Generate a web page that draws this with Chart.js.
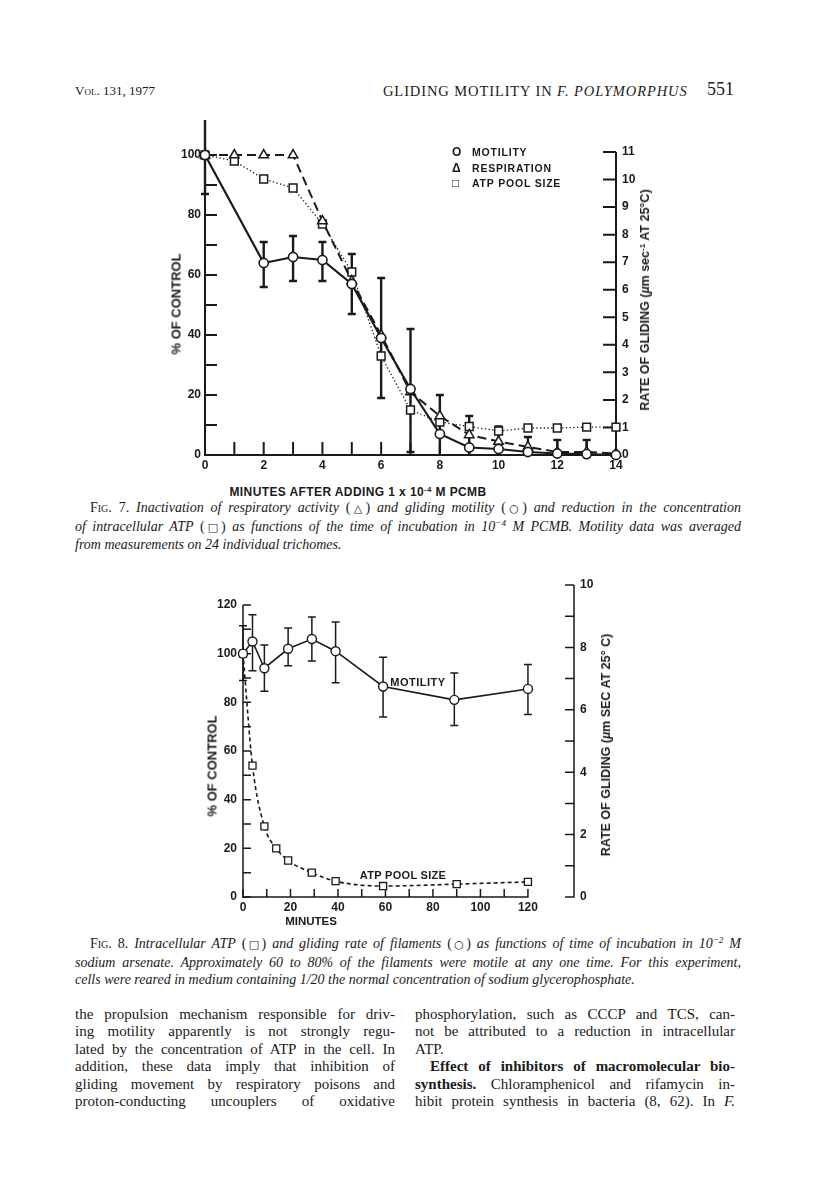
<!DOCTYPE html>
<html>
<head>
<meta charset="utf-8">
<script src="https://cdn.jsdelivr.net/npm/chart.js@4.4.0/dist/chart.umd.min.js"></script>
<style>
  body { margin: 0; background: #fff; }
  #page { position: relative; width: 816px; height: 1201px; overflow: hidden; color: #1a1a1a; font-family: "Liberation Serif", "Times New Roman", serif; }
  .abs { position: absolute; }
  .nw { white-space: nowrap; }
  .sans { font-family: "Liberation Sans", Arial, "DejaVu Sans", sans-serif; font-weight: bold; white-space: nowrap; }
  .rot { transform: translate(-50%, -50%) rotate(-90deg); }
  .ctr { transform: translate(-50%, -50%); }
  .j { text-align: justify; text-align-last: justify; }
  .cap { font-size: 14px; line-height: 17.5px; }
  .body { font-size: 15px; line-height: 17.4px; }
  .sc { font-variant: small-caps; font-style: normal; }
  .sym { font-family: "DejaVu Sans", sans-serif; font-style: normal; font-size: 11px; }
  sup { font-size: 0.65em; line-height: 0; vertical-align: 0.5em; }
  .legend div { height: 15.5px; line-height: 15.5px; }
  .legend span { display: inline-block; width: 20px; font-size: 12px; }
</style>
</head>
<body>
<div id="page">

  <!-- running head -->
  <div class="abs nw" style="left:75px;top:82px;font-size:13px;line-height:18px;"><span class="sc">Vol.</span> 131, 1977</div>
  <div class="abs nw" style="left:383px;top:82px;font-size:14.5px;line-height:18px;letter-spacing:0.9px;">GLIDING MOTILITY IN <i>F. POLYMORPHUS</i></div>
  <div class="abs nw" style="left:707px;top:79px;font-size:18px;line-height:20px;">551</div>

  <!-- Fig. 7 -->
  <div class="abs" style="left:150px;top:120px;width:500px;height:360px;">
    <canvas id="fig7" width="500" height="360"></canvas>
  </div>
  <div class="abs sans rot" style="left:176px;top:304px;font-size:13px;">% OF CONTROL</div>
  <div class="abs sans rot" style="left:645px;top:300px;font-size:12.5px;">RATE OF GLIDING (<i>µ</i>m sec<sup>-1</sup> AT 25°C)</div>
  <div class="abs sans ctr" style="left:358px;top:492px;font-size:12px;letter-spacing:0.4px;">MINUTES AFTER ADDING 1 x 10<sup>-4</sup> M PCMB</div>
  <div class="abs sans legend" style="left:452px;top:145px;font-size:10.5px;letter-spacing:0.8px;">
    <div><span>O</span>MOTILITY</div>
    <div><span>Δ</span>RESPIRATION</div>
    <div><span>□</span>ATP POOL SIZE</div>
  </div>

  <div class="abs cap" style="left:75px;top:499px;width:666px;">
    <div class="j" style="text-indent:15px;"><span class="sc">Fig.</span> 7. <i>Inactivation of respiratory activity</i> (<span class="sym">△</span>) <i>and gliding motility</i> (<span class="sym">○</span>) <i>and reduction in the concentration</i></div>
    <div class="j"><i>of intracellular ATP</i> (<span class="sym">□</span>) <i>as functions of the time of incubation in 10<sup>−4</sup> M PCMB. Motility data was averaged</i></div>
    <div><i>from measurements on 24 individual trichomes.</i></div>
  </div>

  <!-- Fig. 8 -->
  <div class="abs" style="left:190px;top:570px;width:430px;height:350px;">
    <canvas id="fig8" width="430" height="350"></canvas>
  </div>
  <div class="abs sans rot" style="left:212px;top:766px;font-size:13px;">% OF CONTROL</div>
  <div class="abs sans rot" style="left:606px;top:745px;font-size:12.5px;">RATE OF GLIDING (<i>µ</i>m SEC AT 25° C)</div>
  <div class="abs sans ctr" style="left:311px;top:921px;font-size:11.5px;">MINUTES</div>
  <div class="abs sans ctr" style="left:418px;top:682px;font-size:11px;letter-spacing:0.5px;">MOTILITY</div>
  <div class="abs sans ctr" style="left:403px;top:875px;font-size:11px;letter-spacing:0.3px;">ATP POOL SIZE</div>

  <div class="abs cap" style="left:75px;top:935px;width:666px;">
    <div class="j" style="text-indent:15px;"><span class="sc">Fig.</span> 8. <i>Intracellular ATP</i> (<span class="sym">□</span>) <i>and gliding rate of filaments</i> (<span class="sym">○</span>) <i>as functions of time of incubation in 10<sup>−2</sup> M</i></div>
    <div class="j"><i>sodium arsenate. Approximately 60 to 80% of the filaments were motile at any one time. For this experiment,</i></div>
    <div><i>cells were reared in medium containing 1/20 the normal concentration of sodium glycerophosphate.</i></div>
  </div>

  <!-- body text -->
  <div class="abs body" style="left:75px;top:1006px;width:320px;">
    <div class="j">the propulsion mechanism responsible for driv-</div>
    <div class="j">ing motility apparently is not strongly regu-</div>
    <div class="j">lated by the concentration of ATP in the cell. In</div>
    <div class="j">addition, these data imply that inhibition of</div>
    <div class="j">gliding movement by respiratory poisons and</div>
    <div class="j">proton-conducting uncouplers of oxidative</div>
  </div>
  <div class="abs body" style="left:415px;top:1006px;width:320px;">
    <div class="j">phosphorylation, such as CCCP and TCS, can-</div>
    <div class="j">not be attributed to a reduction in intracellular</div>
    <div>ATP.</div>
    <div class="j" style="text-indent:15px;"><b>Effect of inhibitors of macromolecular bio-</b></div>
    <div class="j"><b>synthesis.</b> Chloramphenicol and rifamycin in-</div>
    <div class="j">hibit protein synthesis in bacteria (8, 62). In <i>F.</i></div>
  </div>
</div>

<script>
const INK = '#1a1a1a';

// Fig. 7 — minutes after adding PCMB, % of control
const f7Minutes = [0, 1, 2, 3, 4, 5, 6, 7, 8, 9, 10, 11, 12, 13, 14];
const f7MotMinutes = [0, 2, 3, 4, 5, 6, 7, 8, 9, 10, 11, 12, 13, 14];
const f7Motility = [100, 64, 66, 65, 57, 39, 22, 7, 2.5, 2, 1, 0.5, 0.3, 0];
const f7MotHigh = [113, 71, 73, 71, 67, 59, 42, 20, 13, 9.5, 6, 5, 5, null];
const f7MotLow = [87, 56, 58, 58, 47, 19, 1, 0, 0, 0, 0, 0, 0, null];
const f7Respiration = [100, 100, 100, 100, 78, 58, 40, 21, 13, 6.7, 4.5, 2.7, 1, 1, 0.5];
const f7Atp = [100, 98, 92, 89, 77, 61, 33, 15, 11, 9.5, 8, 9, 9, 9.3, 9.3];
const f7XLabels = [0, 2, 4, 6, 8, 10, 12, 14];
const f7LeftLabels = [0, 20, 40, 60, 80, 100];
const f7RightLabels = [0, 1, 2, 3, 4, 5, 6, 7, 8, 9, 10, 11];

// Fig. 8 — minutes in sodium arsenate
const f8MotMinutes = [0, 4, 9, 19, 29, 39, 59, 89, 120];
const f8Motility = [100, 105, 94, 102, 106, 101, 86.5, 81, 85.5];
const f8MotHigh = [111.5, 116, 103.5, 110.5, 115, 113, 98.5, 92, 95.5];
const f8MotLow = [89, 93, 84.5, 95, 97, 88, 74, 70.5, 75];
const f8AtpMinutes = [0, 4, 9, 14, 19, 29, 39, 59, 90, 120];
const f8Atp = [100, 54, 29, 20, 15, 10, 6.5, 4.5, 5.3, 6.2];
const f8XLabels = [0, 20, 40, 60, 80, 100, 120];
const f8LeftLabels = [0, 20, 40, 60, 80, 100, 120];
const f8RightLabels = [0, 2, 4, 6, 8, 10];

function toPoints(xs, ys) {
    return xs.map((x, i) => ({ x: x, y: ys[i] }));
}

function fixedTicks(values) {
    return scale => { scale.ticks = values.map(v => ({ value: v })); };
}

// axis lines with inward ticks, plus error bars, drawn through the chart's scales
const paperAxes = {
    id: 'paperAxes',
    beforeDatasetsDraw(chart, args, opts) {
        const ctx = chart.ctx;
        ctx.save();
        ctx.strokeStyle = INK;
        for (const a of opts.axes || []) {
            const s = chart.scales[a.scale];
            const o = chart.scales[a.cross];
            const pos = o.getPixelForValue(a.at === 'max' ? o.max : a.at);
            const p0 = s.getPixelForValue(a.from);
            const p1 = s.getPixelForValue(a.to);
            ctx.lineWidth = a.width;
            ctx.beginPath();
            if (s.isHorizontal()) {
                ctx.moveTo(p0 - a.width / 2, pos);
                ctx.lineTo(p1 + a.width / 2, pos);
            } else {
                ctx.moveTo(pos, p0 + a.width / 2);
                ctx.lineTo(pos, p1);
            }
            for (let v = a.from; v <= a.to + 1e-9; v += a.step) {
                const p = s.getPixelForValue(v);
                if (s.isHorizontal()) {
                    ctx.moveTo(p, pos);
                    ctx.lineTo(p, pos - a.tick);
                } else {
                    ctx.moveTo(pos, p);
                    ctx.lineTo(pos + a.tick, p);
                }
            }
            ctx.stroke();
        }
        for (const e of opts.errorBars || []) {
            const meta = chart.getDatasetMeta(e.dataset);
            const ys = chart.scales[meta.yAxisID];
            ctx.lineWidth = e.width;
            ctx.beginPath();
            meta.data.forEach((pt, i) => {
                if (e.high[i] == null) return;
                const yh = ys.getPixelForValue(e.high[i]);
                const yl = ys.getPixelForValue(e.low[i]);
                ctx.moveTo(pt.x, yl);
                ctx.lineTo(pt.x, yh);
                ctx.moveTo(pt.x - e.cap, yh);
                ctx.lineTo(pt.x + e.cap, yh);
                if (e.low[i] > 0) {
                    ctx.moveTo(pt.x - e.cap, yl);
                    ctx.lineTo(pt.x + e.cap, yl);
                }
            });
            ctx.stroke();
        }
        ctx.restore();
    }
};

Chart.defaults.font.family = '"Liberation Sans", Arial, sans-serif';
Chart.defaults.font.weight = 'bold';
Chart.defaults.font.size = 12;
Chart.defaults.color = INK;

function bareScale(extra, padding) {
    return Object.assign({
        type: 'linear',
        grid: { display: false, drawTicks: false },
        border: { display: false },
        ticks: { autoSkip: false, maxRotation: 0, padding: padding, color: INK }
    }, extra);
}

const markerBase = {
    borderColor: INK,
    pointBorderColor: INK,
    pointBackgroundColor: '#fff',
    fill: false,
    clip: false,
    tension: 0
};

new Chart(document.getElementById('fig7'), {
    type: 'line',
    data: {
        datasets: [
            Object.assign({}, markerBase, {
                label: 'MOTILITY',
                data: toPoints(f7MotMinutes, f7Motility),
                borderWidth: 2.2,
                pointStyle: 'circle',
                pointRadius: 4.6,
                pointBorderWidth: 1.6
            }),
            Object.assign({}, markerBase, {
                label: 'RESPIRATION',
                data: toPoints(f7Minutes, f7Respiration),
                borderWidth: 2,
                borderDash: [9, 5],
                pointStyle: 'triangle',
                pointRadius: 5.5,
                pointBorderWidth: 1.5
            }),
            Object.assign({}, markerBase, {
                label: 'ATP POOL SIZE',
                data: toPoints(f7Minutes, f7Atp),
                borderWidth: 1.3,
                borderDash: [1.3, 2.4],
                pointStyle: 'rect',
                pointRadius: 5.5,
                pointBorderWidth: 1.5
            })
        ]
    },
    options: {
        responsive: false,
        animation: false,
        events: [],
        layout: { padding: { top: 32, left: 0, right: 0, bottom: 0 }, autoPadding: false },
        scales: {
            x: bareScale({
                min: 0, max: 14,
                afterBuildTicks: fixedTicks(f7XLabels),
                afterFit: s => { s.height = 25; }
            }, 3),
            y: bareScale({
                position: 'left', min: 0, max: 101,
                afterBuildTicks: fixedTicks(f7LeftLabels),
                afterFit: s => { s.width = 55; }
            }, 4),
            y2: bareScale({
                position: 'right', min: 0, max: 11,
                afterBuildTicks: fixedTicks(f7RightLabels),
                afterFit: s => { s.width = 34; }
            }, 6)
        },
        plugins: {
            legend: { display: false },
            tooltip: { enabled: false },
            paperAxes: {
                axes: [
                    { scale: 'x', cross: 'y', at: 0, from: 0, to: 14, step: 1, tick: 13, width: 2 },
                    { scale: 'y', cross: 'x', at: 0, from: 0, to: 100, step: 10, tick: 12, width: 2 },
                    { scale: 'y2', cross: 'x', at: 14, from: 0, to: 11, step: 1, tick: -13, width: 2 }
                ],
                errorBars: [
                    { dataset: 0, high: f7MotHigh, low: f7MotLow, width: 2.4, cap: 4 }
                ]
            }
        }
    },
    plugins: [paperAxes]
});

new Chart(document.getElementById('fig8'), {
    type: 'line',
    data: {
        datasets: [
            Object.assign({}, markerBase, {
                label: 'MOTILITY',
                data: toPoints(f8MotMinutes, f8Motility),
                borderWidth: 1.6,
                pointStyle: 'circle',
                pointRadius: 4.5,
                pointBorderWidth: 1.4
            }),
            Object.assign({}, markerBase, {
                label: 'ATP POOL SIZE',
                data: toPoints(f8AtpMinutes, f8Atp),
                borderWidth: 1.6,
                borderDash: [4, 3],
                cubicInterpolationMode: 'monotone',
                pointStyle: 'rect',
                pointRadius: 5,
                pointBorderWidth: 1.3
            })
        ]
    },
    options: {
        responsive: false,
        animation: false,
        events: [],
        layout: { padding: { top: 15, left: 0, right: 0, bottom: 0 }, autoPadding: false },
        scales: {
            x: bareScale({
                min: 0, max: 139.4,
                afterBuildTicks: fixedTicks(f8XLabels),
                afterFit: s => { s.height = 23; }
            }, 3),
            y: bareScale({
                position: 'left', min: 0, max: 128.2,
                afterBuildTicks: fixedTicks(f8LeftLabels),
                afterFit: s => { s.width = 53; }
            }, 6),
            y2: bareScale({
                position: 'right', min: 0, max: 10,
                afterBuildTicks: fixedTicks(f8RightLabels),
                afterFit: s => { s.width = 46; }
            }, 6)
        },
        plugins: {
            legend: { display: false },
            tooltip: { enabled: false },
            paperAxes: {
                axes: [
                    { scale: 'x', cross: 'y', at: 0, from: 0, to: 120, step: 10, tick: 8, width: 1.5 },
                    { scale: 'y', cross: 'x', at: 0, from: 0, to: 120, step: 10, tick: 8, width: 1.5 },
                    { scale: 'y2', cross: 'x', at: 'max', from: 0, to: 10, step: 1, tick: -9, width: 1.5 }
                ],
                errorBars: [
                    { dataset: 0, high: f8MotHigh, low: f8MotLow, width: 1.5, cap: 4 }
                ]
            }
        }
    },
    plugins: [paperAxes]
});
</script>
</body>
</html>
